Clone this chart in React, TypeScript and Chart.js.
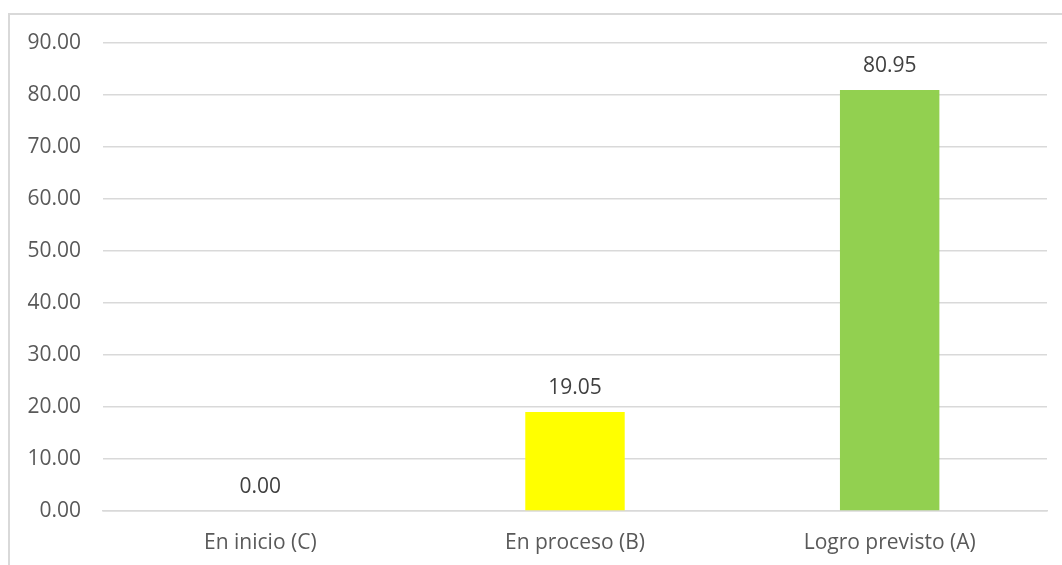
import React, { useEffect, useRef } from "react";
import { Chart, registerables } from "chart.js";

Chart.register(...registerables);

const categories = ["En inicio (C)", "En proceso (B)", "Logro previsto (A)"];
const values = [0.0, 19.05, 80.95];
const barColors = ["#4472C4", "#FFFF00", "#92D050"];
const yMin = 0;
const yMax = 90;
const yStep = 10;

const FONT = "'Open Sans', 'Noto Sans', sans-serif";

const valueLabels = {
  id: "valueLabels",
  afterDatasetsDraw(chart: any) {
    const ctx = chart.ctx;
    const meta = chart.getDatasetMeta(0);
    ctx.save();
    ctx.font = `21px ${FONT}`;
    ctx.fillStyle = "#404040";
    ctx.textAlign = "center";
    ctx.textBaseline = "alphabetic";
    meta.data.forEach((el: any, i: number) => {
      const v = values[i];
      ctx.fillText(v.toFixed(2), el.x, el.y - 18);
    });
    ctx.restore();
  },
};

export default function App() {
  const ref = useRef<HTMLCanvasElement | null>(null);
  useEffect(() => {
    if (!ref.current) return;
    const chart = new Chart(ref.current, {
      type: "bar",
      data: {
        labels: categories,
        datasets: [
          {
            data: values,
            backgroundColor: barColors,
            borderWidth: 0,
            categoryPercentage: 1,
            barPercentage: 0.316,
          },
        ],
      },
      options: {
        animation: false,
        responsive: false,
        devicePixelRatio: 1,
        layout: { padding: { top: 43, right: 15, left: 0, bottom: 0 } },
        plugins: { legend: { display: false }, tooltip: { enabled: false } },
        scales: {
          x: {
            grid: { display: false, drawTicks: false },
            border: { display: true, color: "#d9d9d9", width: 1.5 },
            ticks: { color: "#595959", font: { family: FONT, size: 21 }, padding: 19 },
            afterFit(scale: any) {
              scale.height = 54;
            },
          },
          y: {
            min: yMin,
            max: yMax,
            grid: { color: "#d9d9d9", lineWidth: 1.5, drawTicks: false },
            border: { display: false },
            ticks: {
              stepSize: yStep,
              color: "#595959",
              font: { family: FONT, size: 21 },
              padding: 22,
              callback: (v: any) => Number(v).toFixed(2),
            },
            afterFit(scale: any) {
              scale.width = 103;
            },
          },
        },
      },
      plugins: [valueLabels],
    });
    return () => chart.destroy();
  }, []);
  return (
    <div style={{ position: "fixed", left: 0, top: 0, width: 1062, height: 565, overflow: "hidden", background: "#fff" }}>
      <div
        style={{
          position: "absolute",
          left: 8,
          top: 13,
          width: 1100,
          height: 600,
          border: "2px solid #d9d9d9",
          boxSizing: "border-box",
        }}
      />
      <canvas ref={ref} width={1062} height={565} style={{ position: "absolute", left: 0, top: 0, width: 1062, height: 565 }} />
    </div>
  );
}
